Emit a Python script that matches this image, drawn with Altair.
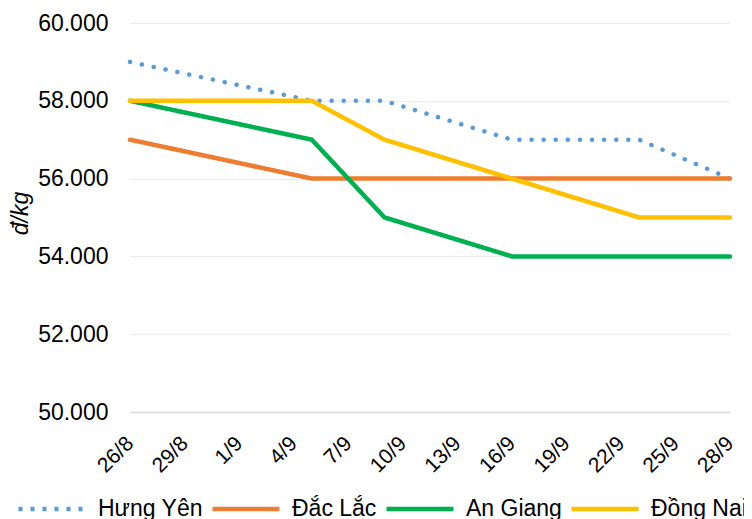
import altair as alt
import pandas as pd

dates = ["2024-08-26", "2024-09-05", "2024-09-09", "2024-09-16", "2024-09-23", "2024-09-28"]
series_names = ["Hưng Yên", "Đắc Lắc", "An Giang", "Đồng Nai"]
hung_yen = [59000, 58000, 58000, 57000, 57000, 56000]
dac_lac = [57000, 56000, 56000, 56000, 56000, 56000]
an_giang = [58000, 57000, 55000, 54000, 54000, 54000]
dong_nai = [58000, 58000, 57000, 56000, 55000, 55000]
colors = ["#5B9BD5", "#ED7D31", "#00B050", "#FFC000"]
tick_days = [(8, 26), (8, 29), (9, 1), (9, 4), (9, 7), (9, 10), (9, 13),
             (9, 16), (9, 19), (9, 22), (9, 25), (9, 28)]
y_ticks = [50000, 52000, 54000, 56000, 58000, 60000]

rows = []
for name, vals in zip(series_names, [hung_yen, dac_lac, an_giang, dong_nai]):
    for d, v in zip(dates, vals):
        rows.append({"date": d, "series": name, "value": v})
df = pd.DataFrame(rows)

FONT = "Liberation Sans"

x_enc = alt.X(
    "date:T",
    scale=alt.Scale(type="utc",
                    domain=[alt.DateTime(year=2024, month=8, date=26, utc=True),
                            alt.DateTime(year=2024, month=9, date=28, utc=True)]),
    axis=alt.Axis(
        values=[alt.DateTime(year=2024, month=m, date=d, utc=True) for m, d in tick_days],
        labelExpr="utcFormat(datum.value, '%-d/%-m')",
        labelAngle=-45, labelFontSize=21, labelAlign="right", labelBaseline="middle",
        labelFont=FONT, labelColor="#000000", grid=False, ticks=False,
        domain=True, domainColor="#D9D9D9", domainWidth=1.5, labelPadding=28,
        title=None, labelOverlap=False, labelFlush=False,
    ),
)
y_enc = alt.Y(
    "value:Q",
    scale=alt.Scale(domain=[50000, 60000], nice=False, zero=False),
    axis=alt.Axis(
        values=y_ticks,
        labelExpr="replace(format(datum.value, ',.0f'), ',', '.')",
        labelFontSize=23, labelFont=FONT, labelColor="#000000",
        grid=True, gridColor="#E6E6E6", gridWidth=1, gridDash=[3, 1],
        ticks=False, domain=False,
        labelPadding=22, title="đ/kg", titleFont=FONT, titleFontSize=23,
        titleFontStyle="italic", titleFontWeight="normal", titleColor="#000000",
        titleX=-110, titleY=190, titleAngle=-90, titleBaseline="middle",
    ),
)

lines = alt.Chart(df).mark_line(strokeWidth=4.5, strokeCap="round", strokeJoin="round").encode(
    x=x_enc,
    y=y_enc,
    color=alt.Color("series:N", scale=alt.Scale(domain=series_names, range=colors), legend=None),
    strokeDash=alt.StrokeDash("series:N", scale=alt.Scale(domain=series_names,
                              range=[[0.1, 12], [1, 0], [1, 0], [1, 0]]), legend=None),
    order=alt.Order("date:T"),
)

legend_layer = alt.Chart(df).transform_filter("false").mark_line(strokeWidth=4.5).encode(
    x=x_enc,
    y=y_enc,
    color=alt.Color("series:N", scale=alt.Scale(domain=series_names, range=colors),
                    legend=alt.Legend(title=None)),
    strokeDash=alt.StrokeDash("series:N", scale=alt.Scale(domain=series_names,
                              range=[[4, 8], [1, 0], [1, 0], [1, 0]]),
                              legend=alt.Legend(title=None)),
)

chart = alt.layer(lines, legend_layer).resolve_scale(
    color="independent", strokeDash="independent"
).properties(
    width=600, height=389,
    autosize=alt.AutoSizeParams(type="none"),
    padding={"left": 122, "top": 15, "right": 14, "bottom": 115},
).configure_view(stroke=None).configure_legend(
    orient="none", legendX=-114, legendY=450, direction="horizontal",
    symbolType="stroke", symbolSize=4489, symbolStrokeWidth=4.5,
    labelFontSize=23, labelFont=FONT, labelColor="#000000", labelOffset=10,
    columnPadding=0, padding=0, labelLimit=300,
)

chart.save("out.html", embed_options={"renderer": "svg", "actions": False})
